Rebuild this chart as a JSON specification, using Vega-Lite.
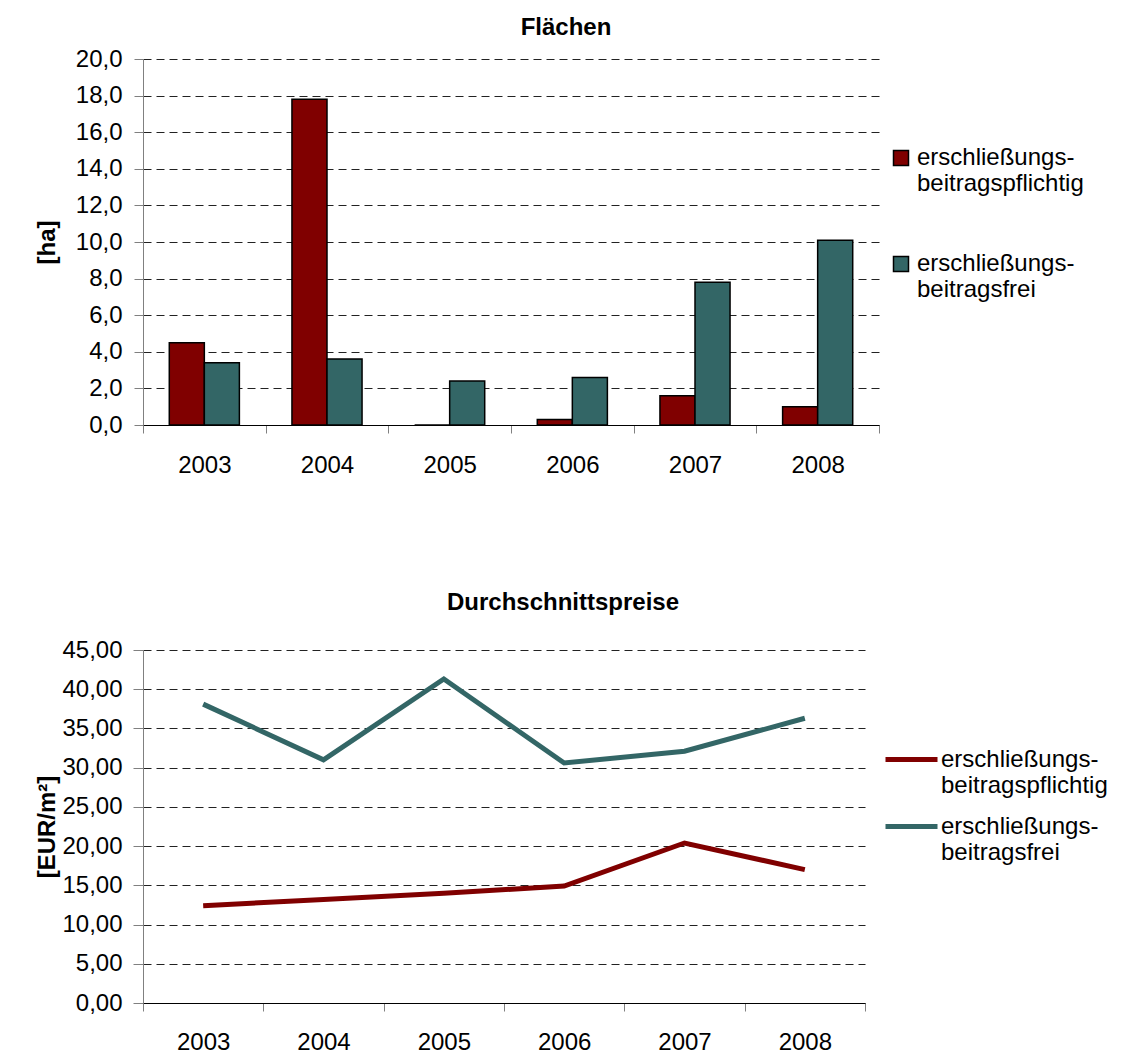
{
  "$schema": "https://vega.github.io/schema/vega-lite/v6.json",
  "background": "white",
  "padding": {"left": 35, "top": 16, "right": 5, "bottom": 5},
  "spacing": 114,
  "config": {
    "font": "Liberation Sans",
    "view": {"stroke": null},
    "axis": {
      "labelFont": "Liberation Sans",
      "labelFontSize": 24,
      "labelColor": "black",
      "titleFont": "Liberation Sans",
      "titleFontSize": 24,
      "titleFontWeight": "bold",
      "titleColor": "black",
      "tickColor": "#808080",
      "domainColor": "#808080",
      "gridColor": "#222222",
      "gridDash": [8, 5],
      "gridWidth": 1
    },
    "legend": {
      "labelFont": "Liberation Sans",
      "labelFontSize": 24,
      "labelColor": "black",
      "labelLineHeight": 31,
      "labelLimit": 400
    },
    "title": {
      "font": "Liberation Sans",
      "fontSize": 24,
      "fontWeight": "bold",
      "color": "black",
      "anchor": "middle",
      "baseline": "alphabetic"
    }
  },
  "resolve": {"scale": {"color": "independent"}, "legend": {"color": "independent"}},
  "datasets": {
    "flaechen": [
      {"jahr": "2003", "serie": "erschließungsbeitragspflichtig", "ha": 4.5},
      {"jahr": "2003", "serie": "erschließungsbeitragsfrei", "ha": 3.4},
      {"jahr": "2004", "serie": "erschließungsbeitragspflichtig", "ha": 17.8},
      {"jahr": "2004", "serie": "erschließungsbeitragsfrei", "ha": 3.6},
      {"jahr": "2005", "serie": "erschließungsbeitragspflichtig", "ha": 0},
      {"jahr": "2005", "serie": "erschließungsbeitragsfrei", "ha": 2.4},
      {"jahr": "2006", "serie": "erschließungsbeitragspflichtig", "ha": 0.3},
      {"jahr": "2006", "serie": "erschließungsbeitragsfrei", "ha": 2.6},
      {"jahr": "2007", "serie": "erschließungsbeitragspflichtig", "ha": 1.6},
      {"jahr": "2007", "serie": "erschließungsbeitragsfrei", "ha": 7.8},
      {"jahr": "2008", "serie": "erschließungsbeitragspflichtig", "ha": 1.0},
      {"jahr": "2008", "serie": "erschließungsbeitragsfrei", "ha": 10.1}
    ],
    "preise": [
      {"jahr": "2003", "serie": "erschließungsbeitragspflichtig", "eur": 12.4},
      {"jahr": "2004", "serie": "erschließungsbeitragspflichtig", "eur": 13.2},
      {"jahr": "2005", "serie": "erschließungsbeitragspflichtig", "eur": 14.0},
      {"jahr": "2006", "serie": "erschließungsbeitragspflichtig", "eur": 14.9},
      {"jahr": "2007", "serie": "erschließungsbeitragspflichtig", "eur": 20.4},
      {"jahr": "2008", "serie": "erschließungsbeitragspflichtig", "eur": 17.0},
      {"jahr": "2003", "serie": "erschließungsbeitragsfrei", "eur": 38.1},
      {"jahr": "2004", "serie": "erschließungsbeitragsfrei", "eur": 31.0},
      {"jahr": "2005", "serie": "erschließungsbeitragsfrei", "eur": 41.3},
      {"jahr": "2006", "serie": "erschließungsbeitragsfrei", "eur": 30.6},
      {"jahr": "2007", "serie": "erschließungsbeitragsfrei", "eur": 32.1},
      {"jahr": "2008", "serie": "erschließungsbeitragsfrei", "eur": 36.3}
    ]
  },
  "vconcat": [
    {
      "data": {"name": "flaechen"},
      "width": 736,
      "height": 366,
      "title": {"text": "Flächen", "dx": 55, "offset": 7},
      "mark": {"type": "bar", "stroke": "black", "strokeWidth": 1.5},
      "encoding": {
        "x": {
          "field": "jahr",
          "type": "nominal",
          "scale": {"type": "band", "paddingInner": 0, "paddingOuter": 0},
          "axis": {
            "title": null,
            "labelAngle": 0,
            "tickBand": "extent",
            "tickSize": 8,
            "labelPadding": 20,
            "domainColor": "#000000"
          }
        },
        "xOffset": {
          "field": "serie",
          "type": "nominal",
          "sort": ["erschließungsbeitragspflichtig", "erschließungsbeitragsfrei"],
          "scale": {"paddingInner": 0, "paddingOuter": 0.75}
        },
        "y": {
          "field": "ha",
          "type": "quantitative",
          "scale": {"domain": [0, 20], "nice": false},
          "axis": {
            "title": "[ha]",
            "values": [0, 2, 4, 6, 8, 10, 12, 14, 16, 18, 20],
            "labelExpr": "replace(format(datum.value, '.1f'), '.', ',')",
            "tickSize": 9,
            "labelPadding": 12,
            "titlePadding": 16,
            "grid": true
          }
        },
        "color": {
          "field": "serie",
          "type": "nominal",
          "sort": ["erschließungsbeitragspflichtig", "erschließungsbeitragsfrei"],
          "scale": {"domain": ["erschließungsbeitragspflichtig", "erschließungsbeitragsfrei"], "range": ["#800000", "#336666"]},
          "legend": {
            "title": null,
            "orient": "none",
            "legendX": 746,
            "legendY": 87,
            "symbolType": "square",
            "symbolSize": 225,
            "symbolStrokeColor": "black",
            "symbolStrokeWidth": 1.5,
            "symbolOpacity": 1,
            "labelOffset": 4,
            "rowPadding": 56,
            "labelBaseline": "middle",
            "labelExpr": "datum.label == 'erschließungsbeitragspflichtig' ? ['erschließungs-', 'beitragspflichtig'] : ['erschließungs-', 'beitragsfrei']"
          }
        }
      }
    },
    {
      "data": {"name": "preise"},
      "width": 722,
      "height": 353,
      "title": {"text": "Durchschnittspreise", "dx": 59, "offset": 23},
      "mark": {"type": "line", "strokeWidth": 5},
      "encoding": {
        "x": {
          "field": "jahr",
          "type": "nominal",
          "bandPosition": 0.5,
          "scale": {"type": "band", "paddingInner": 0, "paddingOuter": 0},
          "axis": {
            "title": null,
            "labelAngle": 0,
            "tickBand": "extent",
            "tickSize": 8,
            "labelPadding": 19,
            "domainColor": "#000000"
          }
        },
        "y": {
          "field": "eur",
          "type": "quantitative",
          "scale": {"domain": [0, 45], "nice": false},
          "axis": {
            "title": "[EUR/m²]",
            "values": [0, 5, 10, 15, 20, 25, 30, 35, 40, 45],
            "labelExpr": "replace(format(datum.value, '.2f'), '.', ',')",
            "tickSize": 10,
            "labelPadding": 11,
            "titlePadding": 2,
            "grid": true
          }
        },
        "color": {
          "field": "serie",
          "type": "nominal",
          "sort": ["erschließungsbeitragspflichtig", "erschließungsbeitragsfrei"],
          "scale": {"domain": ["erschließungsbeitragspflichtig", "erschließungsbeitragsfrei"], "range": ["#800000", "#336666"]},
          "legend": {
            "title": null,
            "orient": "none",
            "legendX": 740,
            "legendY": 81,
            "symbolType": "stroke",
            "symbolSize": 2704,
            "symbolStrokeWidth": 5,
            "labelOffset": 1,
            "rowPadding": -16,
            "labelBaseline": "middle",
            "labelExpr": "datum.label == 'erschließungsbeitragspflichtig' ? ['erschließungs-', 'beitragspflichtig'] : ['erschließungs-', 'beitragsfrei']"
          }
        }
      }
    }
  ]
}
